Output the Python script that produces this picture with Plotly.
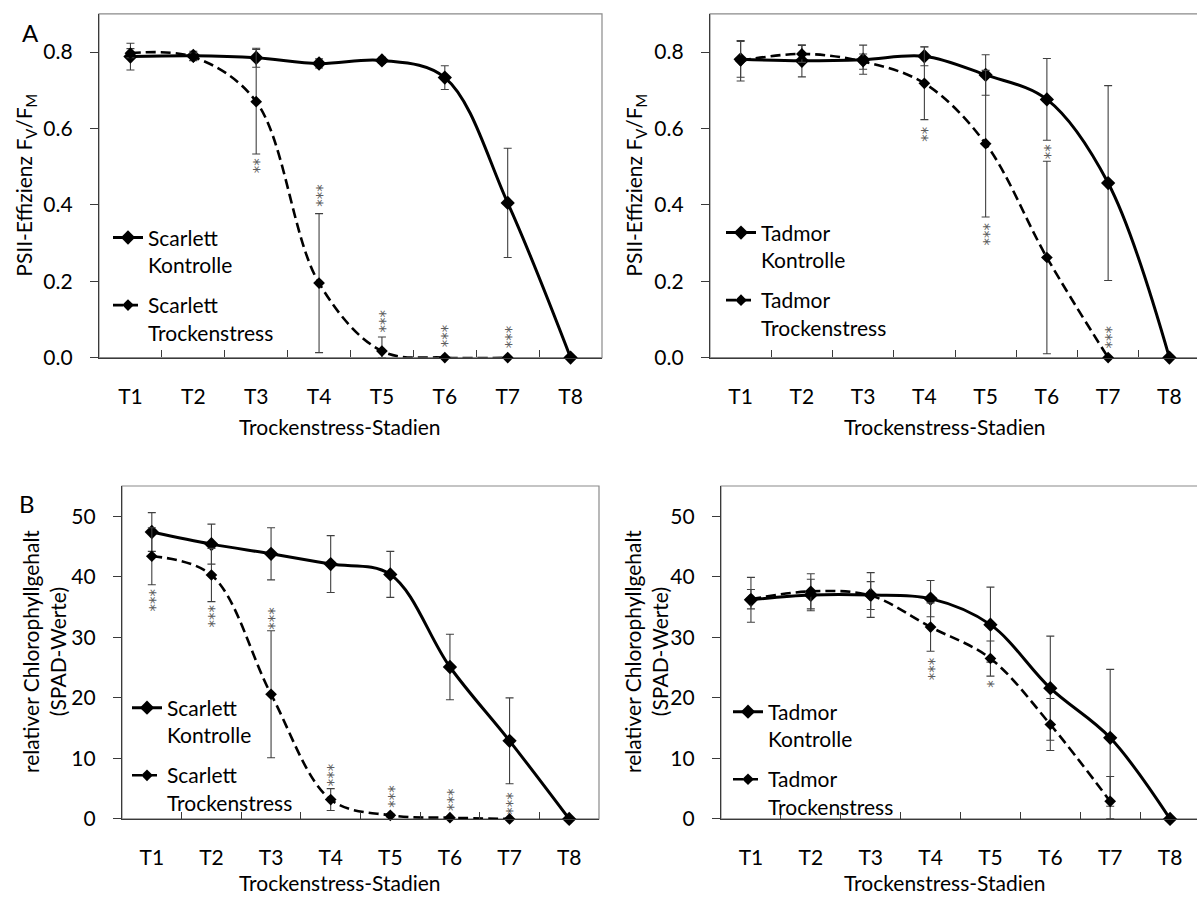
import plotly.graph_objects as go

# ---- data -------------------------------------------------------------
stages = ["T1", "T2", "T3", "T4", "T5", "T6", "T7", "T8"]

# PSII efficiency Fv/Fm, cultivar Scarlett
psii_scarlett_ctrl = [0.788, 0.790, 0.785, 0.770, 0.778, 0.733, 0.405, 0.0]
psii_scarlett_ctrl_sd = [0.035, 0.012, 0.025, 0.012, 0.008, 0.031, 0.143, 0.0]
psii_scarlett_dry = [0.797, 0.787, 0.670, 0.195, 0.017, 0.0, 0.0]
psii_scarlett_dry_sd = [0.012, 0.010, 0.137, 0.182, 0.037, 0.0, 0.0]

# PSII efficiency Fv/Fm, cultivar Tadmor
psii_tadmor_ctrl = [0.781, 0.777, 0.780, 0.789, 0.740, 0.676, 0.457, 0.0]
psii_tadmor_ctrl_sd = [0.047, 0.042, 0.038, 0.025, 0.053, 0.107, 0.255, 0.0]
psii_tadmor_dry = [0.777, 0.795, 0.775, 0.718, 0.560, 0.262, 0.0]
psii_tadmor_dry_sd = [0.053, 0.022, 0.020, 0.095, 0.192, 0.252, 0.0]

# relative chlorophyll content (SPAD), cultivar Scarlett
spad_scarlett_ctrl = [47.4, 45.4, 43.8, 42.1, 40.4, 25.1, 12.9, 0.0]
spad_scarlett_ctrl_sd = [3.2, 3.3, 4.3, 4.7, 3.8, 5.4, 7.1, 0.0]
spad_scarlett_dry = [43.4, 40.3, 20.6, 3.2, 0.6, 0.2, 0.0]
spad_scarlett_dry_sd = [4.7, 4.4, 10.5, 1.8, 0.3, 0.2, 0.0]

# relative chlorophyll content (SPAD), cultivar Tadmor
spad_tadmor_ctrl = [36.2, 37.0, 37.0, 36.4, 32.1, 21.6, 13.4, 0.0]
spad_tadmor_ctrl_sd = [3.7, 2.6, 3.7, 3.0, 6.2, 8.6, 11.3, 0.0]
spad_tadmor_dry = [36.3, 37.6, 36.9, 31.7, 26.5, 15.6, 2.9]
spad_tadmor_dry_sd = [1.6, 2.9, 2.3, 4.0, 2.9, 4.3, 4.1]

# significance marks (stage, anchor value, label)
sig_psii_scarlett = [("T3", 0.504, "**"), ("T4", 0.424, "***"), ("T5", 0.097, "***"),
                     ("T6", 0.058, "***"), ("T7", 0.055, "***")]
sig_psii_tadmor = [("T4", 0.587, "**"), ("T5", 0.324, "***"), ("T6", 0.540, "**"),
                   ("T7", 0.053, "***")]
sig_spad_scarlett = [("T1", 36.2, "***"), ("T2", 33.5, "***"), ("T3", 33.1, "***"),
                     ("T4", 7.35, "***"), ("T5", 3.7, "***"), ("T6", 3.3, "***"),
                     ("T7", 2.6, "***")]
sig_spad_tadmor = [("T4", 24.8, "***"), ("T5", 22.4, "*")]

# ---- layout helpers ---------------------------------------------------
W, H = 1197, 905
FONT = "Lato"
TXT = 21


def px(x):
    return x / W


def py(y):
    return 1 - y / H


panels = [
    dict(sfx="", leg="legend", xdom=[px(99), px(602)], ydom=[py(362), py(14)],
         xend=7.5, yr=[0, 0.9], yt=[0, 0.2, 0.4, 0.6, 0.8], yfmt=".1f",
         ctrl=psii_scarlett_ctrl, ctrl_sd=psii_scarlett_ctrl_sd,
         dry=psii_scarlett_dry, dry_sd=psii_scarlett_dry_sd,
         cv="Scarlett", sig=sig_psii_scarlett,
         legpos=(113, 220)),
    dict(sfx="2", leg="legend2", xdom=[px(710), 1.0], ydom=[py(362), py(14)],
         xend=7.5 - 3 / 61.25, yr=[0, 0.9], yt=[0, 0.2, 0.4, 0.6, 0.8], yfmt=".1f",
         ctrl=psii_tadmor_ctrl, ctrl_sd=psii_tadmor_ctrl_sd,
         dry=psii_tadmor_dry, dry_sd=psii_tadmor_dry_sd,
         cv="Tadmor", sig=sig_psii_tadmor,
         legpos=(726, 215)),
    dict(sfx="3", leg="legend3", xdom=[px(122), px(599)], ydom=[py(829), py(492)],
         xend=7.5, yr=[0, 55], yt=[0, 10, 20, 30, 40, 50], yfmt="d",
         ctrl=spad_scarlett_ctrl, ctrl_sd=spad_scarlett_ctrl_sd,
         dry=spad_scarlett_dry, dry_sd=spad_scarlett_dry_sd,
         cv="Scarlett", sig=sig_spad_scarlett,
         legpos=(132, 696)),
    dict(sfx="4", leg="legend4", xdom=[px(721), 1.0], ydom=[py(829), py(492)],
         xend=7.5 - 3 / 59.9, yr=[0, 55], yt=[0, 10, 20, 30, 40, 50], yfmt="d",
         ctrl=spad_tadmor_ctrl, ctrl_sd=spad_tadmor_ctrl_sd,
         dry=spad_tadmor_dry, dry_sd=spad_tadmor_dry_sd,
         cv="Tadmor", sig=sig_spad_tadmor,
         legpos=(733, 700)),
]

fig = go.Figure()
layout = dict(
    width=W, height=H, autosize=False,
    margin=dict(l=0, r=0, t=0, b=0),
    paper_bgcolor="white", plot_bgcolor="white",
    font=dict(family=FONT, size=TXT, color="black"),
    showlegend=True,
)
annotations = []
shapes = []


def err_minus(vals, sd):
    # bars are cut off at the zero line
    return [min(s, v) for v, s in zip(vals, sd)]


for p in panels:
    xa, ya = "x" + p["sfx"], "y" + p["sfx"]
    for label, vals, sd, dash, msize, width in [
        ("Kontrolle", p["ctrl"], p["ctrl_sd"], "solid", 11, 3),
        ("Trockenstress", p["dry"], p["dry_sd"], "10px,5px", 9, 2.6),
    ]:
        fig.add_trace(go.Scatter(
            x=stages[:len(vals)], y=vals,
            mode="lines+markers",
            name=f"{p['cv']}<br>{label}",
            legendgroup=f"{p['leg']}-{label}",
            line=dict(color="black", width=width, dash=dash,
                      shape="spline", smoothing=1),
            marker=dict(symbol="diamond", size=msize, color="black"),
            error_y=dict(type="data", array=sd, arrayminus=err_minus(vals, sd),
                         color="#404040", thickness=1.1, width=4),
            cliponaxis=False,
            xaxis=xa, yaxis=ya, legend=p["leg"],
        ))

    axis_font = dict(family=FONT, size=TXT, color="black")
    layout["xaxis" + p["sfx"]] = dict(
        domain=p["xdom"], anchor=ya, type="category",
        categoryorder="array", categoryarray=stages,
        range=[-0.5, p["xend"]],
        showline=True, linecolor="#3a3a3a", linewidth=1.3,
        ticks="inside", tickson="boundaries", ticklen=7,
        tickcolor="#3a3a3a", tickwidth=1,
        showgrid=False, zeroline=False,
        tickfont=axis_font, ticklabelstandoff=20,
    )
    layout["yaxis" + p["sfx"]] = dict(
        domain=p["ydom"], anchor=xa, range=p["yr"],
        tickvals=p["yt"], tickformat=p["yfmt"],
        showline=True, linecolor="#3a3a3a", linewidth=1.3,
        ticks="outside", ticklen=8, tickcolor="#3a3a3a", tickwidth=1,
        showgrid=False, zeroline=False,
        tickfont=axis_font, ticklabelstandoff=13,
    )
    # plot area frame
    shapes.append(dict(type="rect", xref=xa + " domain", yref=ya + " domain",
                       x0=0, x1=1.02 if p["xdom"][1] == 1.0 else 1, y0=0, y1=1,
                       line=dict(color="#8a8a8a", width=1.2), layer="below"))

    lx, ly = p["legpos"]
    layout[p["leg"]] = dict(
        x=px(lx - 5), y=py(ly), xanchor="left", yanchor="top",
        bgcolor="rgba(0,0,0,0)", borderwidth=0,
        font=dict(family=FONT, size=TXT, color="black"),
        valign="top", traceorder="grouped", tracegroupgap=10,
        itemwidth=30,
    )

    # significance asterisks, written as a vertical run of stars
    for stage, yv, marks in p["sig"]:
        annotations.append(dict(
            x=stage, y=yv, xref=xa, yref=ya, text=marks, showarrow=False,
            textangle=-90,
            font=dict(family="DejaVu Sans", size=15, color="#5e5e5e"),
            xshift=4, xanchor="center", yanchor="middle",
        ))

# axis titles and panel letters
ytitle_a = "PSII-Effizienz F<sub>V</sub>/F<sub>M</sub>"
ytitle_b = "relativer Chlorophyllgehalt<br>(SPAD-Werte)"
for x, y, t in [(25, 188, ytitle_a), (635, 188, ytitle_a),
                (44, 660, ytitle_b), (646, 660, ytitle_b)]:
    annotations.append(dict(x=px(x), y=py(y), xref="paper", yref="paper",
                            text=t, textangle=-90, showarrow=False,
                            xanchor="center", yanchor="middle",
                            font=dict(family=FONT, size=TXT, color="black")))
for x, y in [(340, 432), (945, 432), (340, 893), (945, 893)]:
    annotations.append(dict(x=px(x), y=py(y), xref="paper", yref="paper",
                            text="Trockenstress-Stadien", showarrow=False,
                            xanchor="center", yanchor="middle",
                            font=dict(family=FONT, size=TXT, color="black")))
for x, y, t in [(30, 33, "A"), (27, 510, "B")]:
    annotations.append(dict(x=px(x), y=py(y), xref="paper", yref="paper",
                            text=t, showarrow=False,
                            xanchor="center", yanchor="middle",
                            font=dict(family=FONT, size=24, color="black")))

layout["annotations"] = annotations
layout["shapes"] = shapes
fig.update_layout(**layout)

fig.write_html("out.html")
